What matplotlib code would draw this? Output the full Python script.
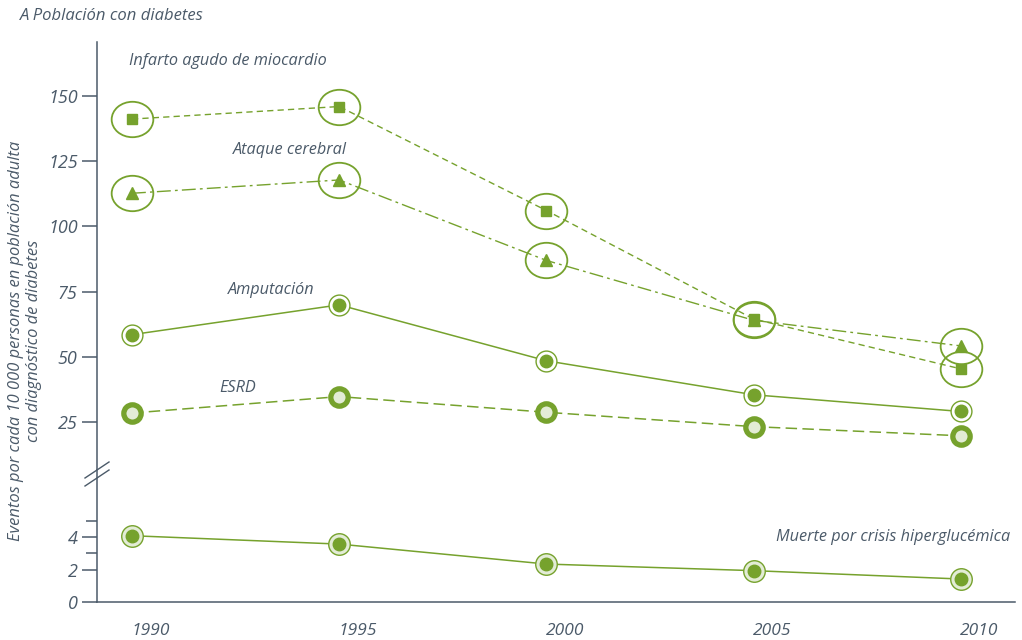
import matplotlib.pyplot as plt
import numpy as np
from matplotlib.lines import Line2D
from matplotlib.markers import MarkerStyle
from matplotlib.path import Path
from matplotlib.transforms import ScaledTranslation

years = [1990, 1995, 2000, 2005, 2010]
infarto = [141.0, 145.8, 106.0, 64.5, 45.4]
ataque = [112.6, 117.7, 86.9, 64.0, 54.2]
amputacion = [58.5, 69.9, 48.5, 35.5, 29.1]
esrd = [28.5, 34.8, 28.8, 23.3, 19.8]
muerte = [4.1, 3.58, 2.34, 1.93, 1.41]

upper_ticks = [25, 50, 75, 100, 125, 150]
lower_ticks = [0, 2, 4]
lower_minor = [3, 5]

GREEN = "#76a22d"
LIGHT = "#e3ecd6"
INK = "#4b5a69"

plt.rcParams["font.family"] = ["Open Sans", "DejaVu Sans"]
plt.rcParams["font.style"] = "italic"

# ellipse marker, a bit wider than tall
circ = Path.unit_circle()
ellipse = MarkerStyle(Path(circ.vertices * np.array([1.0, 0.85]), circ.codes))

fig = plt.figure(figsize=(10.22, 6.4), dpi=100)
ax = fig.add_axes([0.0949, 0.2656, 0.898, 0.6688])
axb = fig.add_axes([0.0949, 0.0598, 0.898, 0.2058])

for a in (ax, axb):
    a.set_xlim(1989.156, 2011.30)
    for s in ("top", "right"):
        a.spines[s].set_visible(False)
    a.spines["left"].set_color(INK)
    a.spines["left"].set_linewidth(1.1)
    a.tick_params(axis="y", colors=INK, length=11, width=1.1, pad=3, labelsize=13)

ax.set_ylim(6.7, 170.5)
ax.spines["bottom"].set_visible(False)
ax.set_xticks([])
ax.set_yticks(upper_ticks)

axb.set_ylim(0, 8.18)
axb.spines["bottom"].set_color(INK)
axb.spines["bottom"].set_linewidth(1.1)
axb.set_yticks(lower_ticks)
axb.set_yticks(lower_minor, minor=True)
axb.tick_params(axis="y", which="minor", colors=INK, length=8, width=1.1)
axb.set_xticks(years)
axb.tick_params(axis="x", length=0, pad=15.5, colors=INK, labelsize=12.5)
shift = ScaledTranslation(18.5 / 100, 0, fig.dpi_scale_trans)
for lab in axb.get_xticklabels():
    lab.set_transform(lab.get_transform() + shift)

# Infarto agudo de miocardio
ax.plot(years, infarto, color=GREEN, lw=1.0, dashes=(4.5, 3), zorder=2)
ax.plot(years, infarto, ls="none", marker="s", ms=7, color=GREEN, zorder=3)
ax.plot(years, infarto, ls="none", marker=ellipse, ms=30, mfc="none",
        mec=GREEN, mew=1.3, zorder=3)

# Ataque cerebral
ax.plot(years, ataque, color=GREEN, lw=1.0, dashes=(10, 3, 2, 3), zorder=2)
ax.plot(years, ataque, ls="none", marker="^", ms=9, color=GREEN, zorder=3)
ax.plot(years, ataque, ls="none", marker=ellipse, ms=30, mfc="none",
        mec=GREEN, mew=1.3, zorder=3)

# Amputación
ax.plot(years, amputacion, color=GREEN, lw=1.1, zorder=2)
ax.plot(years, amputacion, ls="none", marker="o", ms=15, mfc="white",
        mec=GREEN, mew=1.0, zorder=3)
ax.plot(years, amputacion, ls="none", marker="o", ms=9, color=GREEN, zorder=4)

# ESRD
ax.plot(years, esrd, color=GREEN, lw=1.1, dashes=(7.5, 3.5), zorder=2)
ax.plot(years, esrd, ls="none", marker="o", ms=12.5, mfc=LIGHT,
        mec=GREEN, mew=3.8, zorder=3)

# Muerte por crisis hiperglucémica
axb.plot(years, muerte, color=GREEN, lw=1.1, zorder=2)
axb.plot(years, muerte, ls="none", marker="o", ms=15.5, mfc=LIGHT,
         mec=GREEN, mew=1.0, zorder=3, clip_on=False)
axb.plot(years, muerte, ls="none", marker="o", ms=9, color=GREEN, zorder=4)

lab_kw = dict(color=INK, fontsize=11.7, style="italic", va="center")
ax.text(1989.93, 163.3, "Infarto agudo de miocardio", ha="left", **lab_kw)
ax.text(1992.44, 129.2, "Ataque cerebral", ha="left", **lab_kw)
ax.text(1992.32, 75.6, "Amputación", ha="left", **lab_kw)
ax.text(1992.1, 38.1, "ESRD", ha="left", **lab_kw)
axb.text(2011.18, 4.02, "Muerte por crisis hiperglucémica", ha="right", **lab_kw)

fig.text(0.0196, 0.975, "A Población con diabetes", color=INK, fontsize=12,
         style="italic", ha="left", va="center")
fig.text(0.0245, 0.467,
         "Eventos por cada 10 000 personas en población adulta\ncon diagnóstico de diabetes",
         color=INK, fontsize=11.9, style="italic", rotation=90,
         ha="center", va="center", linespacing=1.1)

# break marks on the y axis
for yc in (478, 470):
    x0, x1 = 85 / 1022, 109 / 1022
    y0, y1 = 1 - (yc + 8) / 640, 1 - (yc - 8) / 640
    fig.add_artist(Line2D([x0, x1], [y0, y1], color=INK, lw=1.0))

fig.savefig("out.png", dpi=100)
